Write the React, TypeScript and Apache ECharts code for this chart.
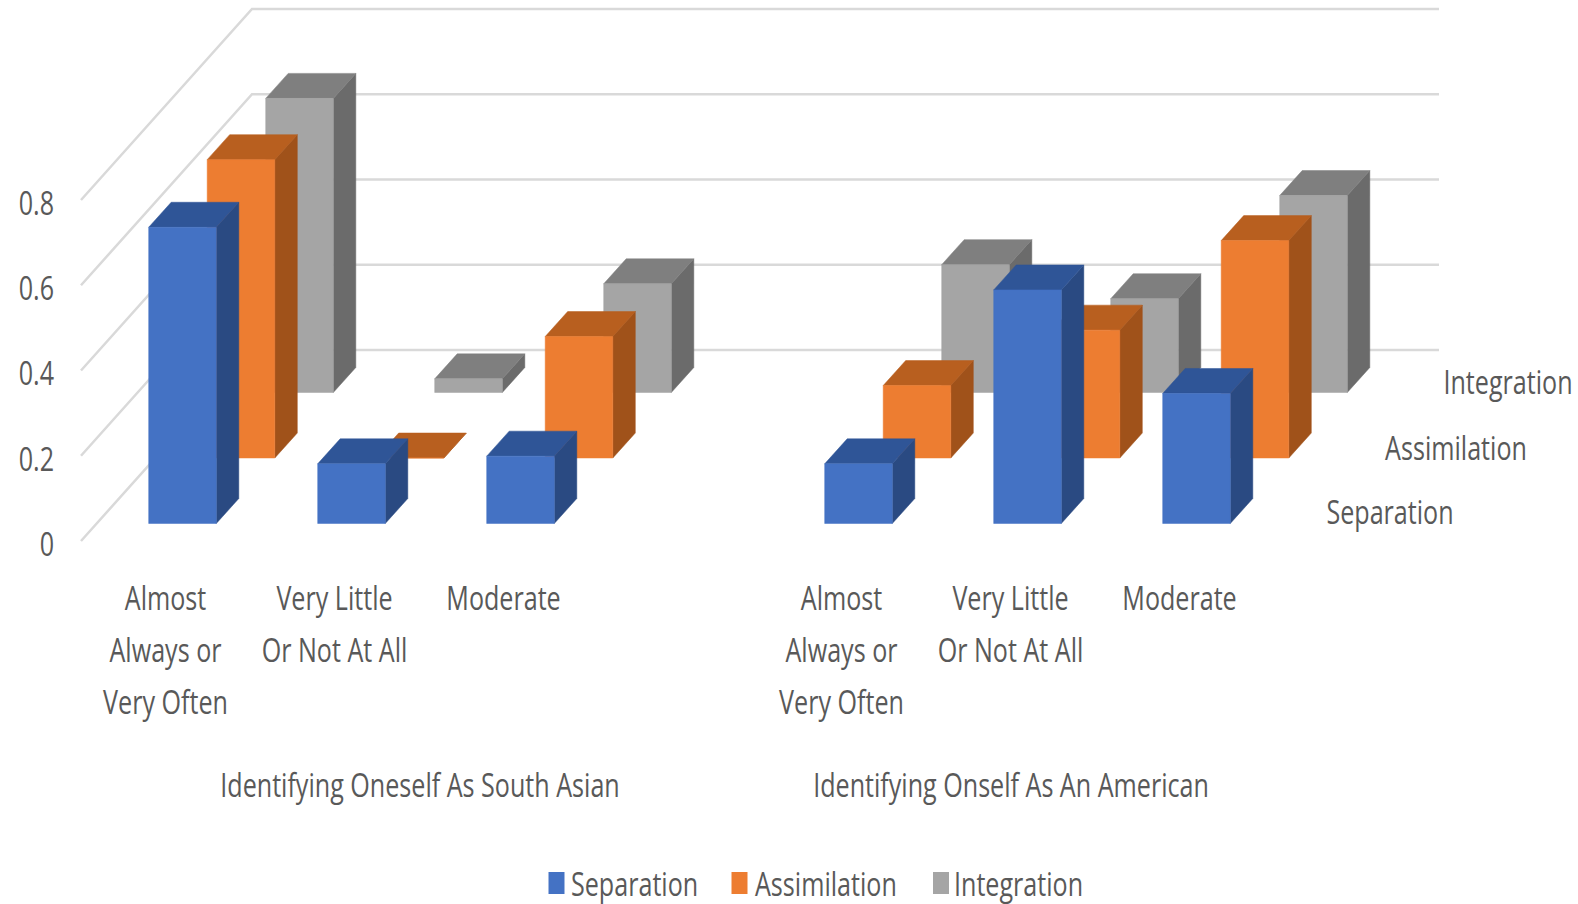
import React, { useEffect, useRef } from "react";
import * as echarts from "echarts";

const categories = [
  "Almost\nAlways or\nVery Often",
  "Very Little\nOr Not At All",
  "Moderate",
  "",
  "Almost\nAlways or\nVery Often",
  "Very Little\nOr Not At All",
  "Moderate",
];
const separation = [0.695, 0.14, 0.158, null, 0.14, 0.548, 0.305];
const assimilation = [0.7, 0, 0.285, null, 0.17, 0.3, 0.51];
const integration = [0.69, 0.032, 0.255, null, 0.3, 0.22, 0.462];
const wallTicks = [0, 0.2, 0.4, 0.6, 0.8];
const tickLabels = ["0", "0.2", "0.4", "0.6", "0.8"];
const groupNames = ["Identifying Oneself As South Asian", "Identifying Onself As An American"];
const seriesNames = ["Separation", "Assimilation", "Integration"];
const frontColors = ["#4472c4", "#ed7d31", "#a5a5a5"];
const sideColors = ["#2a4a82", "#a0521a", "#6b6b6b"];
const topColors = ["#2f5597", "#b85f1f", "#7f7f7f"];

// The labels are set in a regular face squeezed horizontally to a tall, condensed look.
const FONT = "'Open Sans', sans-serif";
const FONT_SIZE = 32;
const SQUEEZE = 0.785;
const TEXT_COLOR = "#595959";
const GRID = { left: 81, top: 200, width: 1183, height: 341 };

// Oblique projection of the depth axis, in pixels.
const WALL = { dx: 171, dy: -191 };
const FRONT_GAP = { dx: 17, dy: -17.5 };
const ROW_STEP = { dx: 58.5, dy: -65.5 };
const BAR_DEPTH = { dx: 22.5, dy: -25 };
const BAR_RATIO = 0.4;

function bar3d(row: number) {
  return (_params: any, api: any) => {
    const cat = api.value(0);
    const val = api.value(1);
    const base = api.coord([cat, 0]);
    const peak = api.coord([cat, val]);
    const w = api.size([1, 0])[0] * BAR_RATIO;
    const l = base[0] + FRONT_GAP.dx + ROW_STEP.dx * row - w / 2;
    const r = l + w;
    const oy = FRONT_GAP.dy + ROW_STEP.dy * row;
    const b = base[1] + oy;
    const t = peak[1] + oy;
    const { dx, dy } = BAR_DEPTH;
    const face = (points: number[][], fill: string) => ({
      type: "polygon",
      shape: { points },
      style: { fill, stroke: fill, lineWidth: 0.5 },
    });
    return {
      type: "group",
      children: [
        face([[r, b], [r + dx, b + dy], [r + dx, t + dy], [r, t]], sideColors[row]),
        face([[l, t], [r, t], [r + dx, t + dy], [l + dx, t + dy]], topColors[row]),
        face([[l, b], [r, b], [r, t], [l, t]], frontColors[row]),
      ],
    };
  };
}

function wallLine(params: any, api: any) {
  const y = api.coord([0, api.value(0)])[1];
  const x0 = params.coordSys.x;
  const x1 = x0 + params.coordSys.width;
  return {
    type: "polyline",
    shape: {
      points: [
        [x0, y],
        [x0 + WALL.dx, y + WALL.dy],
        [x1 + WALL.dx + 4, y + WALL.dy],
      ],
    },
    style: { fill: "none", stroke: "#d9d9d9", lineWidth: 2.5 },
  };
}

function barSeries(row: number, values: (number | null)[]) {
  return {
    type: "custom",
    name: seriesNames[row],
    clip: false,
    itemStyle: { color: frontColors[row] },
    renderItem: bar3d(row),
    encode: { x: 0, y: 1 },
    data: values.flatMap((v, i) => (v === null ? [] : [[i, v]])),
  };
}

function label(text: string, x: number, y: number, align = "center", verticalAlign = "middle", lineHeight?: number) {
  return {
    type: "text",
    x,
    y,
    scaleX: SQUEEZE,
    style: {
      text,
      fill: TEXT_COLOR,
      fontFamily: FONT,
      fontSize: FONT_SIZE,
      lineHeight,
      align,
      verticalAlign,
    },
  };
}

function categoryLabel(params: any, api: any) {
  const p = api.coord([api.value(0), 0]);
  return label(categories[params.dataIndex], p[0], p[1] + 30, "center", "top", 52);
}

function tickLabel(params: any, api: any) {
  const p = api.coord([0, api.value(0)]);
  return label(tickLabels[params.dataIndex], p[0] - 84.5 - 27, p[1] + 2, "right");
}

const legendIconX = [548.5, 731.5, 933];
const legendTextX = [571, 755, 954];
const LEGEND_Y = 883;

export default function App() {
  const ref = useRef<HTMLDivElement>(null);
  useEffect(() => {
    const chart = echarts.init(ref.current!, null, { renderer: "svg" });
    chart.setOption({
      animation: false,
      backgroundColor: "#fff",
      grid: GRID,
      xAxis: {
        type: "category",
        data: categories,
        axisLine: { show: false },
        axisTick: { show: false },
        splitLine: { show: false },
        axisLabel: { show: false },
      },
      yAxis: {
        type: "value",
        min: 0,
        max: 0.8,
        interval: 0.2,
        axisLine: { show: false },
        axisTick: { show: false },
        splitLine: { show: false },
        axisLabel: { show: false },
      },
      series: [
        {
          type: "custom",
          name: "walls",
          clip: false,
          silent: true,
          renderItem: wallLine,
          encode: { y: 0 },
          data: wallTicks.map((v) => [v]),
        },
        barSeries(2, integration),
        barSeries(1, assimilation),
        barSeries(0, separation),
        {
          type: "custom",
          name: "tickLabels",
          clip: false,
          silent: true,
          renderItem: tickLabel,
          encode: { y: 0 },
          data: wallTicks.map((v) => [v]),
        },
        {
          type: "custom",
          name: "categoryLabels",
          clip: false,
          silent: true,
          renderItem: categoryLabel,
          encode: { x: 0 },
          data: categories.map((_c, i) => [i]),
        },
      ],
      graphic: [
        label(groupNames[0], 420, 784),
        label(groupNames[1], 1011, 784),
        label(seriesNames[0], 1390, 511),
        label(seriesNames[1], 1456, 447),
        label(seriesNames[2], 1508, 381),
        ...seriesNames.flatMap((name, i) => [
          {
            type: "rect",
            shape: { x: legendIconX[i], y: LEGEND_Y - 11, width: 16, height: 22 },
            style: { fill: frontColors[i] },
          },
          label(name, legendTextX[i], LEGEND_Y, "left"),
        ]),
      ],
    });
    return () => chart.dispose();
  }, []);
  return <div ref={ref} style={{ position: "absolute", left: 0, top: 0, width: 1578, height: 904 }} />;
}
